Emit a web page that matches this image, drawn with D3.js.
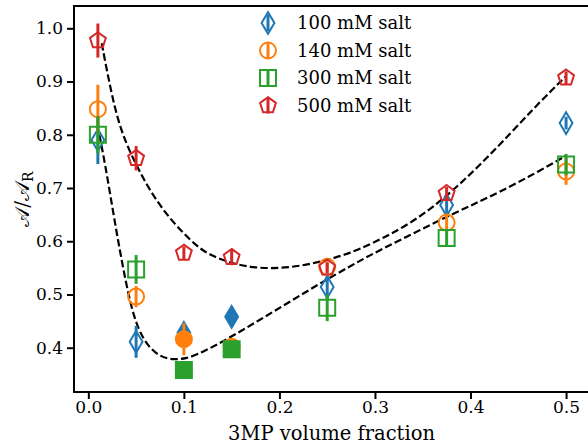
<!DOCTYPE html>
<html>
  <head>
    <meta charset="utf-8">
    <style>
    body { margin: 0; border: 0; overflow: hidden; background: #fff; }
    text { font-family: "DejaVu Serif", serif; fill: #000; }
    .axis path { display: none; }
    .axis line { stroke: #000; stroke-width: 2px; }
    .axis text { font-size: 17px; }
    .legend text { font-size: 18px; }
    </style>
  </head>
  <body>
    <script src="https://cdnjs.cloudflare.com/ajax/libs/d3/7.8.5/d3.min.js"></script>
    <script>
// 3MP volume fraction for every series
var fractions = [0.01, 0.05, 0.1, 0.15, 0.25, 0.375, 0.5];

var salt100 = [0.790, 0.411, 0.428, 0.458, 0.514, 0.668, 0.822],
    err100  = [0.045, 0.030, 0.015, 0.010, 0.025, 0.020, 0.012];
var salt140 = [0.848, 0.496, 0.416, 0.402, 0.552, 0.635, 0.731],
    err140  = [0.046, 0.020, 0.030, 0.010, 0.010, 0.015, 0.025];
var salt300 = [0.800, 0.547, 0.358, 0.397, 0.475, 0.606, 0.744],
    err300  = [0.035, 0.027, 0.010, 0.010, 0.025, 0.015, 0.020];
var salt500 = [0.977, 0.756, 0.578, 0.570, 0.550, 0.690, 0.907],
    err500  = [0.032, 0.023, 0.012, 0.015, 0.010, 0.012, 0.012];

// filled markers (true) vs open ones
var filled100 = [false, false, true, true, false, false, false],
    filled140 = [false, false, true, true, false, false, false],
    filled300 = [false, false, true, true, false, false, false],
    filled500 = [false, false, false, false, false, false, false];

// dashed fit curves
var upperX = [0.014, 0.0227, 0.0332, 0.0507, 0.068, 0.089, 0.1135, 0.1275, 0.1487, 0.170, 0.1903, 0.2113, 0.232, 0.253, 0.274, 0.295, 0.337, 0.375, 0.410, 0.442, 0.470, 0.4993],
    upperY = [0.972, 0.890, 0.809, 0.740, 0.684, 0.634, 0.590, 0.574, 0.559, 0.551, 0.549, 0.551, 0.557, 0.566, 0.578, 0.594, 0.632, 0.684, 0.743, 0.803, 0.857, 0.909];
var lowerX = [0.0115, 0.0175, 0.0262, 0.034, 0.0437, 0.0524, 0.0628, 0.0751, 0.089, 0.103, 0.117, 0.1488, 0.180, 0.2115, 0.2426, 0.274, 0.295, 0.337, 0.375, 0.410, 0.442, 0.470, 0.4993],
    lowerY = [0.800, 0.746, 0.652, 0.572, 0.483, 0.433, 0.402, 0.383, 0.377, 0.380, 0.389, 0.4195, 0.453, 0.487, 0.521, 0.553, 0.574, 0.612, 0.646, 0.675, 0.703, 0.730, 0.760];

var xTicks = [0.0, 0.1, 0.2, 0.3, 0.4, 0.5],
    yTicks = [0.4, 0.5, 0.6, 0.7, 0.8, 0.9, 1.0];

var labels = ["100 mM salt", "140 mM salt", "300 mM salt", "500 mM salt"],
    colors = ["#1f77b4", "#ff7f0e", "#2ca02c", "#d62728"];

var width = 588, height = 445,
    margin = ({top: 6, right: -1, bottom: 53, left: 74});

var x_scale = d3.scaleLinear().domain([-0.015, 0.524]).range([margin.left, width - margin.right]),
    y_scale = d3.scaleLinear().domain([0.3168, 1.0419]).range([height - margin.bottom, margin.top]);

// marker shapes (size ~ matplotlib markersize in px)
var thinDiamond = { draw: function(c, s) {
      var h = s * 0.68, w = s * 0.4;
      c.moveTo(0, -h); c.lineTo(w, 0); c.lineTo(0, h); c.lineTo(-w, 0); c.closePath(); } },
    circle = { draw: function(c, s) {
      var r = s / 2; c.moveTo(r, 0); c.arc(0, 0, r, 0, 2 * Math.PI); c.closePath(); } },
    square = { draw: function(c, s) {
      var h = s / 2; c.rect(-h, -h, 2 * h, 2 * h); } },
    pentagon = { draw: function(c, s) {
      var r = s * 0.52;
      for (var i = 0; i < 5; i++) {
        var a = -Math.PI / 2 + i * 2 * Math.PI / 5;
        if (i == 0) c.moveTo(r * Math.cos(a), r * Math.sin(a));
        else c.lineTo(r * Math.cos(a), r * Math.sin(a));
      }
      c.closePath(); } };

var series = [
  {vals: salt100, errs: err100, filled: filled100, shape: thinDiamond},
  {vals: salt140, errs: err140, filled: filled140, shape: circle},
  {vals: salt300, errs: err300, filled: filled300, shape: square},
  {vals: salt500, errs: err500, filled: filled500, shape: pentagon}
];

var svg = d3.select("body").append("svg")
    .attr("width", width)
    .attr("height", height);

// dashed fits
var line = d3.line()
    .x(function(d) { return x_scale(d[0]); })
    .y(function(d) { return y_scale(d[1]); })
    .curve(d3.curveBasis);

[[upperX, upperY], [lowerX, lowerY]].forEach(function(c) {
  svg.append("path")
    .datum(d3.zip(c[0], c[1]))
    .attr("d", line)
    .attr("fill", "none")
    .attr("stroke", "#000")
    .attr("stroke-width", 2.2)
    .attr("stroke-dasharray", "7.4,3.2");
});

// points with error bars
series.forEach(function(s, k) {
  var g = svg.append("g");
  var pts = fractions.map(function(f, i) { return {x: f, y: s.vals[i], e: s.errs[i], filled: s.filled[i]}; });
  g.selectAll("line")
    .data(pts)
    .enter().append("line")
    .attr("x1", function(d) { return x_scale(d.x); })
    .attr("x2", function(d) { return x_scale(d.x); })
    .attr("y1", function(d) { return y_scale(d.y - d.e); })
    .attr("y2", function(d) { return y_scale(d.y + d.e); })
    .attr("stroke", colors[k])
    .attr("stroke-width", 3);
  g.selectAll("path")
    .data(pts)
    .enter().append("path")
    .attr("transform", function(d) { return "translate(" + x_scale(d.x) + "," + y_scale(d.y) + ")"; })
    .attr("d", d3.symbol().type(s.shape).size(16))
    .attr("fill", function(d) { return d.filled ? colors[k] : "none"; })
    .attr("stroke", colors[k])
    .attr("stroke-width", 2);
});

// axes
var x_axis = d3.axisBottom(x_scale).tickValues(xTicks).tickSize(7).tickPadding(2).tickFormat(d3.format(".1f"));
var y_axis = d3.axisLeft(y_scale).tickValues(yTicks).tickSize(7).tickPadding(4).tickFormat(d3.format(".1f"));

svg.append("g")
  .attr("class", "axis")
  .attr("transform", "translate(0," + (height - margin.bottom) + ")")
  .call(x_axis);

svg.append("g")
  .attr("class", "axis")
  .attr("transform", "translate(" + margin.left + ",0)")
  .call(y_axis);

// spines (right one falls off the canvas)
var x0 = margin.left, x1 = width - margin.right, y0 = margin.top, y1 = height - margin.bottom;
svg.append("path")
  .attr("d", "M" + x1 + "," + y0 + "H" + x0 + "V" + y1 + "H" + x1)
  .attr("fill", "none")
  .attr("stroke", "#000")
  .attr("stroke-width", 2);

// axis labels
svg.append("text")
  .attr("x", (x0 + x1) / 2)
  .attr("y", 440)
  .attr("text-anchor", "middle")
  .style("font-size", "19.5px")
  .text("3MP volume fraction");

var ylab = svg.append("text")
  .attr("transform", "translate(29," + ((y0 + y1) / 2) + ") rotate(-90)")
  .attr("text-anchor", "middle")
  .style("font-size", "20px");
ylab.append("tspan").text("𝒜/𝒜");
ylab.append("tspan").attr("dy", 4).style("font-size", "14px").text("R");

// legend
var legend = svg.append("g").attr("class", "legend");
labels.forEach(function(l, k) {
  var ly = 23 + k * 27.5;
  legend.append("line")
    .attr("x1", 268).attr("x2", 268)
    .attr("y1", ly - 8).attr("y2", ly + 8)
    .attr("stroke", colors[k]).attr("stroke-width", 3);
  legend.append("path")
    .attr("transform", "translate(268," + ly + ")")
    .attr("d", d3.symbol().type(series[k].shape).size(16))
    .attr("fill", "none")
    .attr("stroke", colors[k])
    .attr("stroke-width", 2);
  legend.append("text")
    .attr("x", 297)
    .attr("y", ly + 6)
    .text(l);
});
    </script>
  </body>
</html>
